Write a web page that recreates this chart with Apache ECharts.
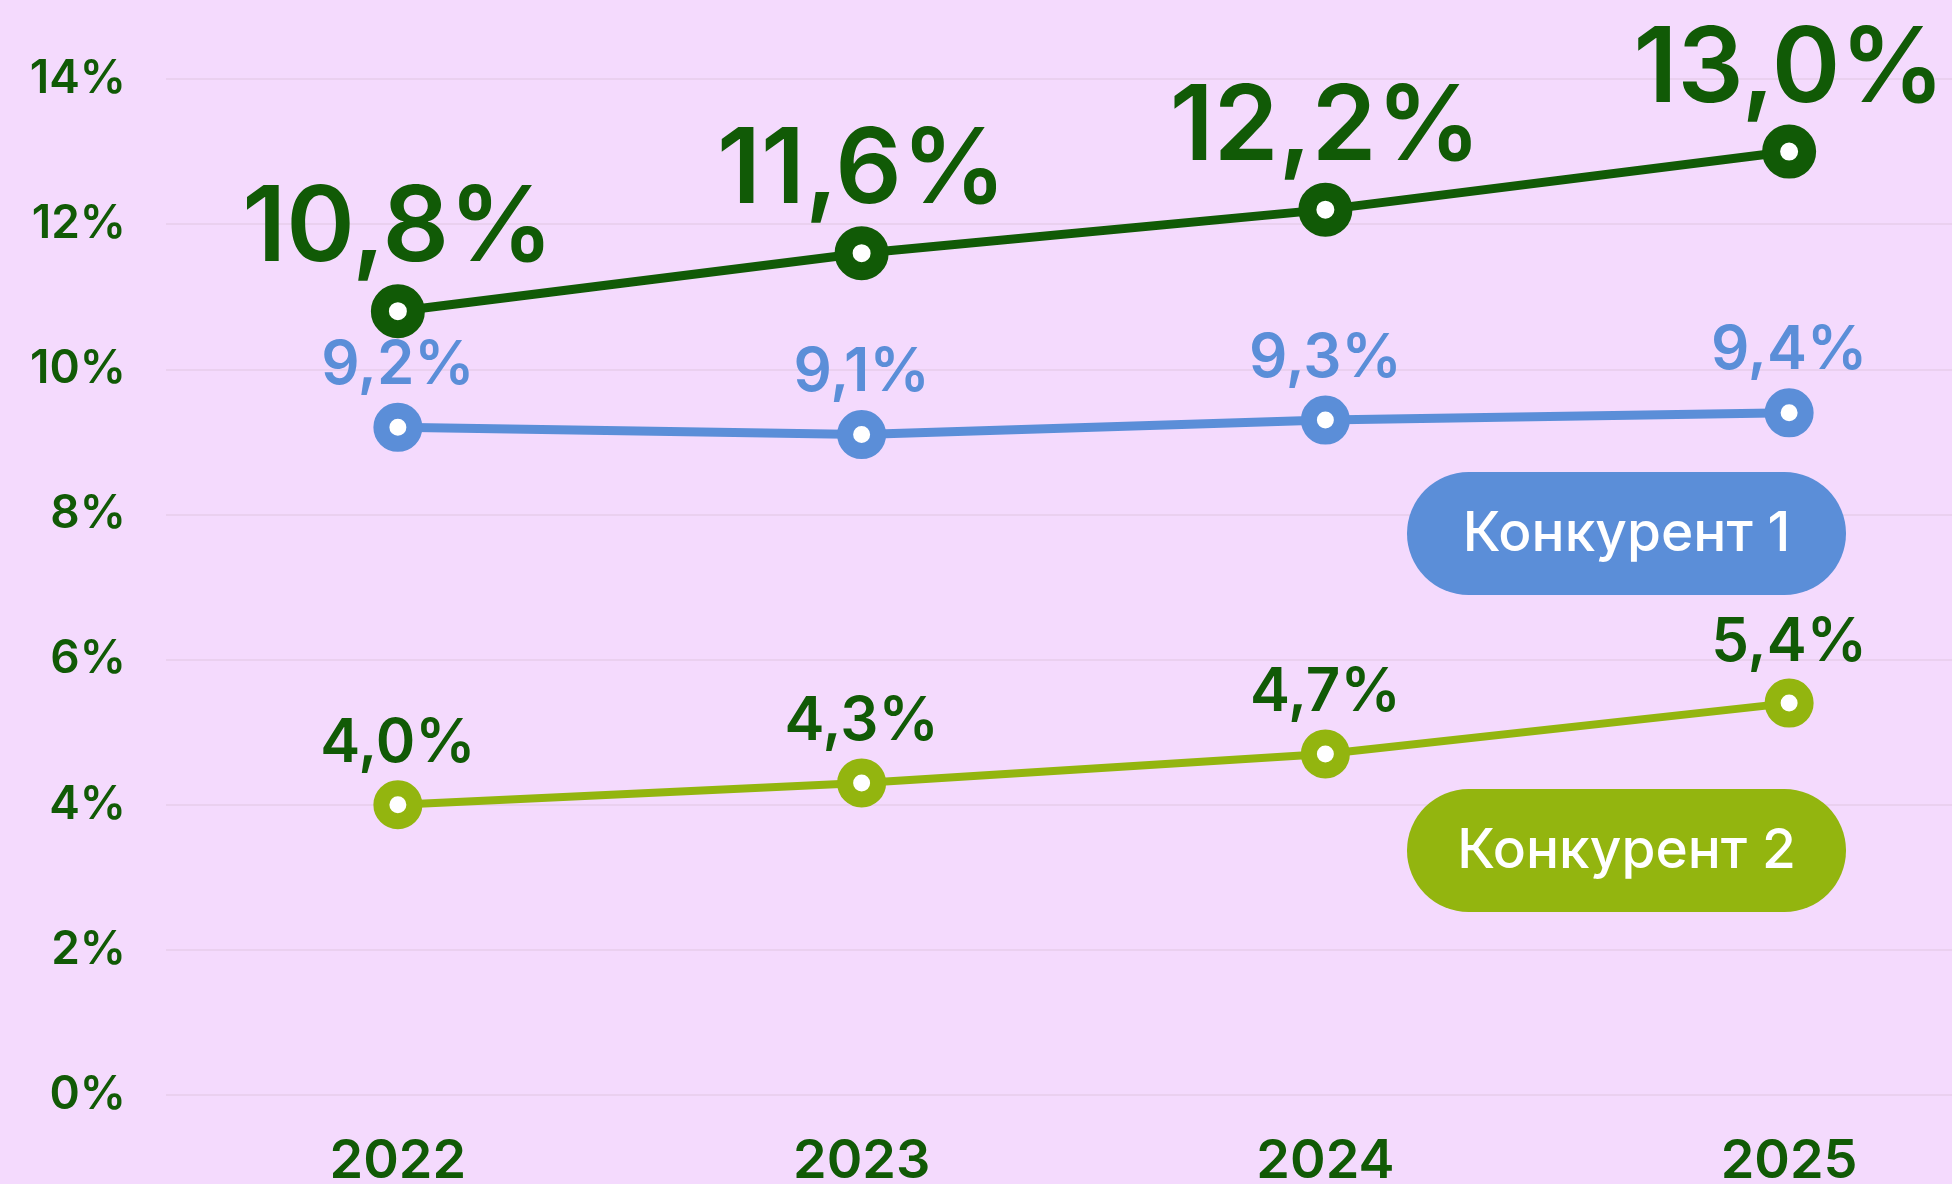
<!DOCTYPE html>
<html>
<head>
<meta charset="utf-8">
<script src="https://cdn.jsdelivr.net/npm/echarts@6/dist/echarts.min.js"></script>
<style>
  html, body { margin: 0; padding: 0; background: #f4dafd; overflow: hidden; }
  /* the plot runs past the right edge of the picture, so the canvas is wider than the window */
  #chart { width: 2021px; height: 1184px; }
</style>
</head>
<body>
<div id="chart"></div>
<script>
// data
const years = ["2022", "2023", "2024", "2025"];
const seriesNames = ["Наша компания", "Конкурент 1", "Конкурент 2"];
const ourValues = [10.8, 11.6, 12.2, 13.0];
const rival1Values = [9.2, 9.1, 9.3, 9.4];
const rival2Values = [4.0, 4.3, 4.7, 5.4];
const yTicks = [0, 2, 4, 6, 8, 10, 12, 14];

const darkGreen = "#115a06";
const blue = "#5b8ed8";
const lime = "#93b50f";
const fontFamily = "Inter";

const fmt = p => p.value.toFixed(1).replace(".", ",") + "%";

const chart = echarts.init(document.getElementById("chart"));

chart.setOption({
  backgroundColor: "#f4dafd",
  animation: false,
  textStyle: { fontFamily: fontFamily },
  grid: {
    left: 166,
    right: 0,
    top: 79,
    bottom: 89,
    outerBoundsMode: "none"
  },
  xAxis: {
    type: "category",
    data: years,
    axisLine: { show: false },
    axisTick: { show: false },
    axisLabel: {
      margin: 40,
      color: darkGreen,
      fontSize: 54,
      fontWeight: 600,
      fontFamily: fontFamily
    }
  },
  yAxis: {
    type: "value",
    min: yTicks[0],
    max: yTicks[yTicks.length - 1],
    interval: 2,
    axisLine: { show: false },
    axisTick: { show: false },
    splitLine: { lineStyle: { color: "#e7cdea", width: 1.5 } },
    axisLabel: {
      margin: 40,
      color: darkGreen,
      fontSize: 46,
      fontWeight: 600,
      fontFamily: fontFamily,
      formatter: v => v + "%"
    }
  },
  series: [
    {
      name: seriesNames[2],
      type: "line",
      data: rival2Values,
      symbol: "circle",
      symbolSize: 33,
      lineStyle: { color: lime, width: 8 },
      itemStyle: { color: "#fff", borderColor: lime, borderWidth: 16 },
      label: {
        show: true,
        position: "top",
        distance: 6,
        color: darkGreen,
        fontSize: 60,
        fontWeight: 600,
        fontFamily: fontFamily,
        formatter: fmt
      },
      z: 2
    },
    {
      name: seriesNames[1],
      type: "line",
      data: rival1Values,
      symbol: "circle",
      symbolSize: 33,
      lineStyle: { color: blue, width: 9 },
      itemStyle: { color: "#fff", borderColor: blue, borderWidth: 16 },
      label: {
        show: true,
        position: "top",
        distance: 7,
        color: blue,
        fontSize: 60,
        fontWeight: 600,
        fontFamily: fontFamily,
        formatter: fmt
      },
      z: 3
    },
    {
      name: seriesNames[0],
      type: "line",
      data: ourValues,
      symbol: "circle",
      symbolSize: 36,
      lineStyle: { color: darkGreen, width: 9 },
      itemStyle: { color: "#fff", borderColor: darkGreen, borderWidth: 18 },
      label: {
        show: true,
        position: "top",
        distance: 2,
        color: darkGreen,
        fontSize: 104,
        fontWeight: 600,
        fontFamily: fontFamily,
        formatter: fmt
      },
      z: 4
    }
  ],
  graphic: [
    {
      type: "group",
      left: 1407,
      top: 472,
      z: 100,
      children: [
        { type: "rect", z: 100, shape: { x: 0, y: 0, width: 439, height: 123, r: 61.5 }, style: { fill: blue } },
        {
          type: "text", z: 101, x: 219.5, y: 62,
          style: { text: seriesNames[1], fill: "#fff", fontSize: 55, fontWeight: 500, fontFamily: fontFamily, align: "center", verticalAlign: "middle" }
        }
      ]
    },
    {
      type: "group",
      left: 1407,
      top: 789,
      z: 100,
      children: [
        { type: "rect", z: 100, shape: { x: 0, y: 0, width: 439, height: 123, r: 61.5 }, style: { fill: lime } },
        {
          type: "text", z: 101, x: 219.5, y: 62,
          style: { text: seriesNames[2], fill: "#fff", fontSize: 55, fontWeight: 500, fontFamily: fontFamily, align: "center", verticalAlign: "middle" }
        }
      ]
    }
  ]
});
</script>
</body>
</html>
